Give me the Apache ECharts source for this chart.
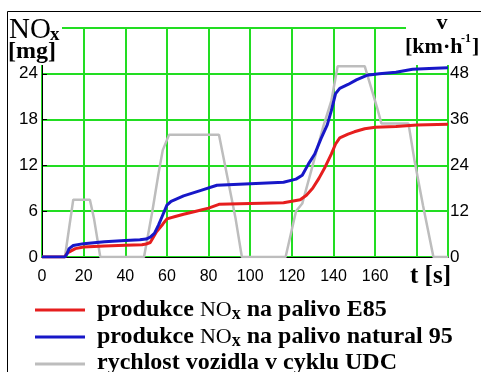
<!DOCTYPE html>
<html>
<head>
<meta charset="utf-8">
<script src="https://cdn.jsdelivr.net/npm/echarts@6/dist/echarts.min.js"></script>
<style>
html, body { margin: 0; padding: 0; background: #fff; }
#chart { width: 481px; height: 372px; }
</style>
</head>
<body>
<div id="chart"></div>
<script>
// rychlost vozidla v cyklu UDC [km/h]
var speedTime = [0, 11, 15, 23, 25, 28, 49, 53, 56, 58, 61, 85, 93, 96, 117, 122, 125, 130, 135, 139, 142, 155, 161, 163, 176, 179, 183, 188, 195];
var speedValue = [0, 0, 15, 15, 10, 0, 0, 12, 22, 28, 32, 32, 10, 0, 0, 12, 14, 24, 34, 41, 50, 50, 39, 35, 35, 25, 13.5, 0, 0];

// produkce NOx, palivo E85 [mg]
var e85Time = [0, 11, 12, 14, 16, 20, 30, 40, 48, 50, 52, 55, 58, 60, 64, 68, 74, 80, 85, 100, 116, 120, 124, 127, 130, 133, 136, 139, 141, 143, 147, 150, 155, 160, 170, 180, 195];
var e85Value = [0, 0, 0.5, 0.8, 1.1, 1.3, 1.45, 1.55, 1.6, 1.7, 1.9, 3.3, 4.3, 5.0, 5.3, 5.6, 6.0, 6.4, 6.9, 7.0, 7.1, 7.3, 7.5, 8.1, 9.0, 10.3, 11.8, 13.5, 14.8, 15.6, 16.1, 16.4, 16.8, 17.0, 17.1, 17.3, 17.4];

// produkce NOx, palivo natural 95 [mg]
var n95Time = [0, 11, 12, 13, 15, 20, 30, 40, 47, 50, 52, 54, 56, 58, 60, 62, 68, 76, 84, 100, 116, 122, 125, 128, 131, 134, 137, 139, 141, 143, 147, 151, 156, 162, 170, 178, 186, 195];
var n95Value = [0, 0, 0.4, 1.1, 1.5, 1.75, 2.0, 2.15, 2.25, 2.35, 2.6, 3.1, 4.2, 5.5, 6.8, 7.3, 8.0, 8.7, 9.4, 9.6, 9.8, 10.2, 10.7, 12.2, 13.5, 15.5, 17.3, 19.2, 21.4, 22.1, 22.6, 23.2, 23.8, 24.0, 24.2, 24.6, 24.7, 24.8];

var seriesNames = ['produkce NOx na palivo E85', 'produkce NOx na palivo natural 95', 'rychlost vozidla v cyklu UDC'];
// legend texts split into pieces: [text, kind] (b = bold, n = NO, s = subscript)
var legendParts = [
    [['produkce ', 'b'], ['NO', 'n'], ['x', 's'], [' na palivo E85', 'b']],
    [['produkce ', 'b'], ['NO', 'n'], ['x', 's'], [' na palivo natural 95', 'b']],
    [['rychlost vozidla v cyklu UDC', 'b']]
];

function pairs(t, v) {
    var out = [];
    for (var i = 0; i < t.length; i++) out.push([t[i], v[i]]);
    return out;
}

var sans = 'Liberation Sans';
var gridGreen = '#22dd22';
var fonts = {
    b: { font: "bold 24px 'Liberation Serif'", size: 24, dy: 0 },
    n: { font: "22px 'Liberation Serif'", size: 22, dy: 0 },
    s: { font: "bold 18px 'Liberation Serif'", size: 18, dy: 3 }
};

var measureCtx = document.createElement('canvas').getContext('2d');

// one text line built of differently styled pieces, placed on a common baseline
function textRun(x, baseline, parts) {
    var out = [];
    parts.forEach(function (p) {
        var f = fonts[p[1]];
        measureCtx.font = f.font;
        out.push({ type: 'text', z: 101, x: x, y: baseline + f.dy - 0.3375 * f.size,
                   style: { text: p[0], font: f.font, fill: '#000', verticalAlign: 'middle' } });
        x += measureCtx.measureText(p[0]).width;
    });
    return out;
}

function label(text, x, y, font, align, vAlign) {
    return { type: 'text', z: 101, x: x, y: y,
             style: { text: text, font: font, fill: '#000', align: align || 'left', verticalAlign: vAlign || 'top' } };
}

var graphics = [
    { type: 'rect', z: 100, shape: { x: 7.5, y: 11.5, width: 520, height: 420 },
      style: { fill: 'none', stroke: '#000', lineWidth: 1 } },
    { type: 'rect', z: 100, shape: { x: 8, y: 12, width: 54, height: 53 }, style: { fill: '#fff' } },
    { type: 'rect', z: 100, shape: { x: 406, y: 12, width: 80, height: 53 }, style: { fill: '#fff' } },
    label('NO', 9, 16, "29px 'Liberation Serif'"),
    label('x', 50, 45, "bold 19px 'Liberation Serif'", 'left', 'bottom'),
    label('[mg]', 8, 40, "bold 24px 'Liberation Serif'"),
    label('v', 442, 12, "bold 22px 'Liberation Serif'", 'center'),
    label('[km·h', 405, 36, "bold 22px 'Liberation Serif'"),
    label('-1', 461, 33, "bold 12px 'Liberation Serif'"),
    label(']', 472, 36, "bold 22px 'Liberation Serif'"),
    label('t [s]', 410, 264, "bold 25px 'Liberation Serif'")
];
var legendBaselines = [317.5, 344.5, 371];
legendParts.forEach(function (parts, i) {
    graphics = graphics.concat(textRun(97, legendBaselines[i], parts));
});

var chart = echarts.init(document.getElementById('chart'));
var option = {
    animation: false,
    backgroundColor: '#fff',
    grid: { left: 42, right: 33, top: 28, bottom: 115 },
    xAxis: [{
        type: 'value', min: 0, max: 195, interval: 20,
        axisLine: { lineStyle: { color: '#000', width: 1 } },
        axisTick: { show: false },
        splitLine: { lineStyle: { color: gridGreen, width: 2 } },
        axisLabel: {
            margin: 12, color: '#000', fontFamily: sans, fontSize: 16, showMaxLabel: false,
            formatter: function (v) { return v > 170 ? '' : String(v); }
        }
    }, {
        type: 'value', min: 0, max: 195, position: 'top',
        axisLine: { show: true, lineStyle: { color: '#000', width: 1 } },
        axisTick: { show: false }, axisLabel: { show: false }, splitLine: { show: false }
    }],
    yAxis: [{
        type: 'value', min: 0, max: 30, interval: 6,
        axisLine: { show: true, lineStyle: { color: '#000', width: 1 } },
        axisTick: { show: false },
        splitLine: { lineStyle: { color: gridGreen, width: 2 } },
        axisLabel: { margin: 4, color: '#000', fontFamily: sans, fontSize: 17, showMaxLabel: false }
    }, {
        type: 'value', min: 0, max: 60, interval: 12, position: 'right',
        axisLine: { show: true, lineStyle: { color: '#000', width: 1 } },
        axisTick: { show: true, length: 5, lineStyle: { color: '#000' } },
        splitLine: { show: false },
        axisLabel: { margin: 2, color: '#000', fontFamily: sans, fontSize: 17, showMaxLabel: false }
    }],
    legend: {
        orient: 'vertical', left: 35, top: 297, height: 90, padding: 0,
        icon: 'rect', itemWidth: 50, itemHeight: 3, itemGap: 1,
        data: seriesNames,
        formatter: function () { return ' '; },
        textStyle: { fontSize: 24, lineHeight: 26 }
    },
    graphic: graphics,
    series: [{
        name: seriesNames[2], type: 'line', yAxisIndex: 1, z: 2,
        symbol: 'none', data: pairs(speedTime, speedValue),
        lineStyle: { color: '#bdbdbd', width: 2.5 }, itemStyle: { color: '#bdbdbd' }
    }, {
        name: seriesNames[0], type: 'line', yAxisIndex: 0, z: 3,
        symbol: 'none', data: pairs(e85Time, e85Value),
        lineStyle: { color: '#e61e1e', width: 3 }, itemStyle: { color: '#e61e1e' }
    }, {
        name: seriesNames[1], type: 'line', yAxisIndex: 0, z: 4,
        symbol: 'none', data: pairs(n95Time, n95Value),
        lineStyle: { color: '#1717c8', width: 3 }, itemStyle: { color: '#1717c8' }
    }]
};
chart.setOption(option);
</script>
</body>
</html>
